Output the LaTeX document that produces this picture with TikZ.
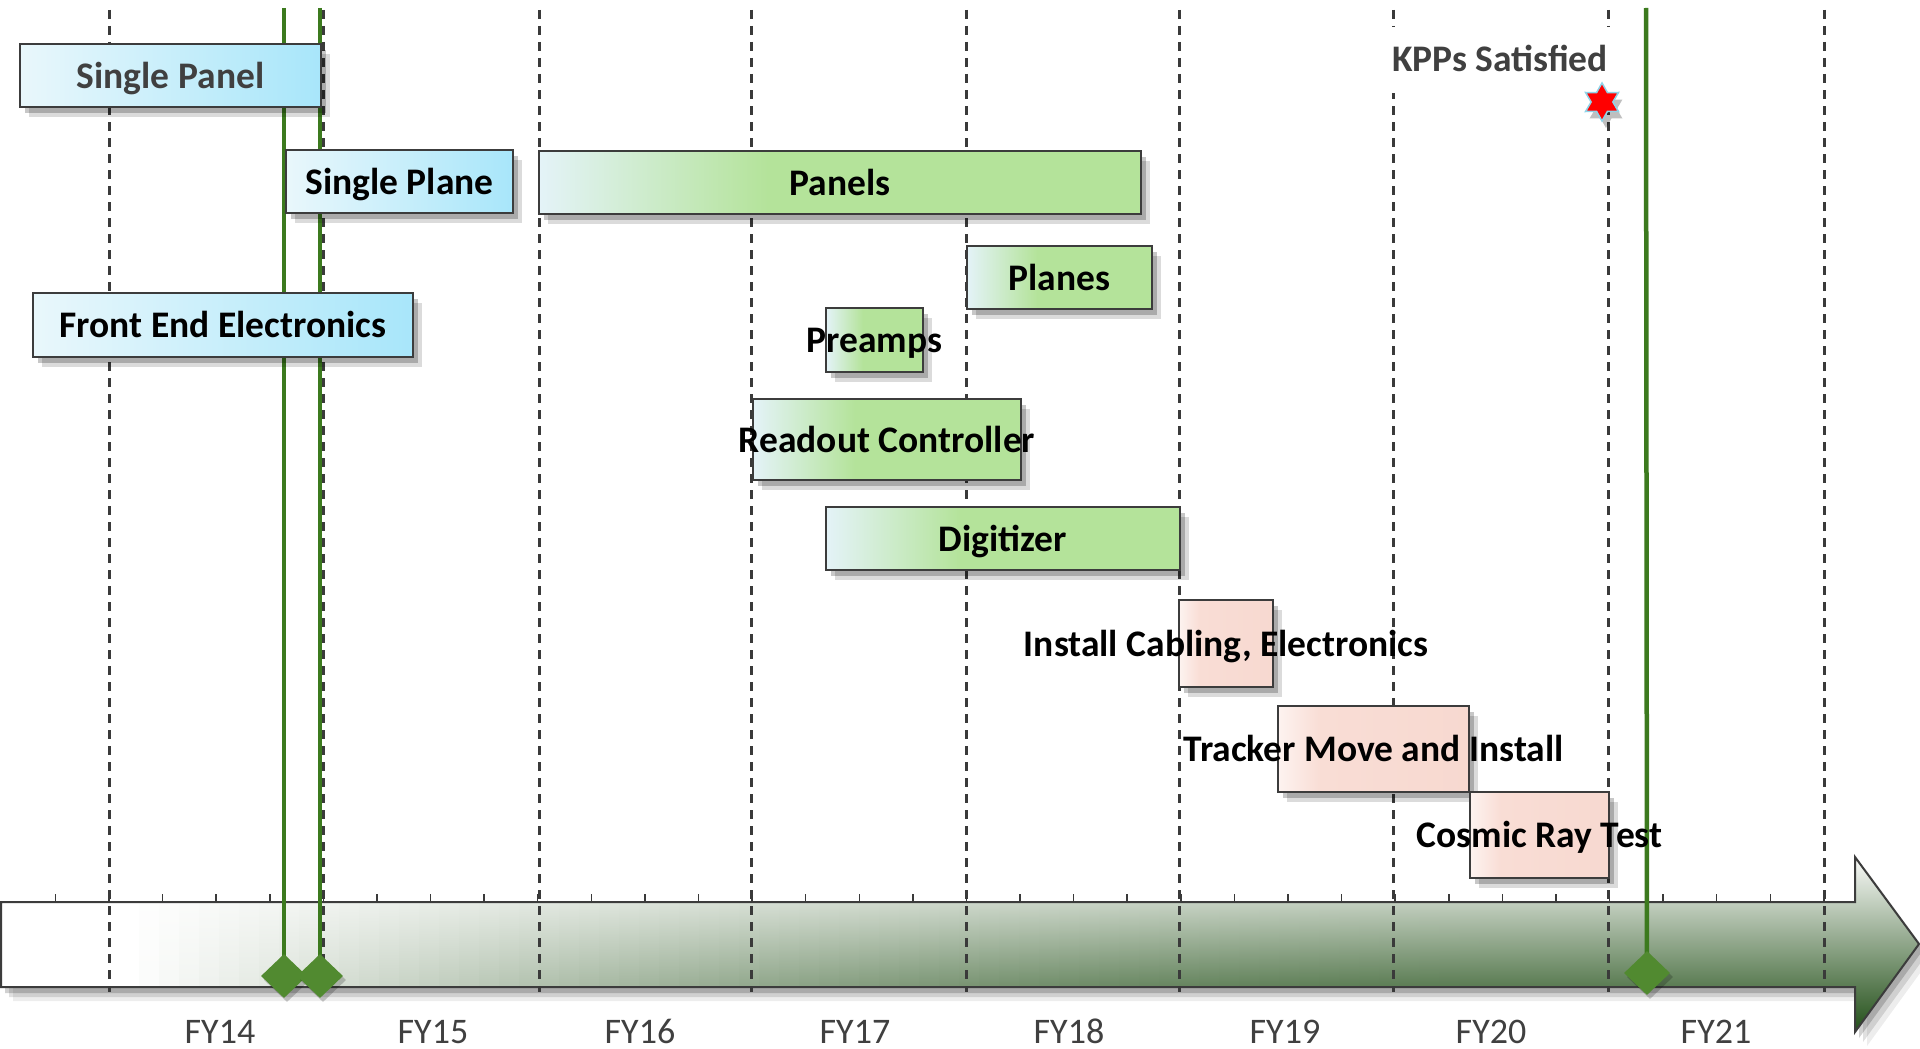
\documentclass[tikz,border=0pt]{standalone}
\usepackage{fontspec}
\setmainfont{Carlito}
\usetikzlibrary{shapes.geometric,shadows}
\definecolor{boxline}{HTML}{3C3C3C}
\definecolor{bleft}{HTML}{E9F7FB}
\definecolor{bright}{HTML}{A8E6FA}
\definecolor{gleft}{HTML}{E4F3F8}
\definecolor{ggreen}{HTML}{B4E39A}
\definecolor{pleft}{HTML}{FDF3F0}
\definecolor{pmid}{HTML}{F9DDD5}
\definecolor{pright}{HTML}{F6D6CD}
\definecolor{bartop}{HTML}{FAFBF9}
\definecolor{barmid}{HTML}{A2B698}
\definecolor{barbot}{HTML}{224F18}
\definecolor{gridc}{HTML}{3A3A3A}
\definecolor{msline}{HTML}{3C7A1E}
\definecolor{msfill}{HTML}{518A30}
\definecolor{greytext}{HTML}{404040}
\definecolor{starline}{HTML}{8FD3E8}
\pgfdeclarehorizontalshading{greenfill}{100bp}{color(0bp)=(gleft); color(25bp)=(gleft); color(44bp)=(ggreen); color(100bp)=(ggreen)}
\pgfdeclarehorizontalshading{pinkfill}{100bp}{color(0bp)=(pleft); color(25bp)=(pleft); color(36bp)=(pmid); color(100bp)=(pright)}
\begin{document}
\begin{tikzpicture}[x=1pt,y=-1pt,
  box/.style={rectangle, inner sep=0pt, outer sep=0pt, draw=boxline, line width=1.4pt},
  bshadow/.style={drop shadow={shadow xshift=5pt,shadow yshift=-6pt,opacity=0.22,fill=black},
                  drop shadow={shadow xshift=9pt,shadow yshift=-10pt,opacity=0.14,fill=black}},
  bluebox/.style={box, bshadow, left color=bleft, right color=bright},
  greenbox/.style={box, bshadow, shade, shading=greenfill},
  pinkbox/.style={box, bshadow, shade, shading=pinkfill},
  lbl/.style={anchor=base, inner sep=0pt, font=\fontsize{37.5}{44}\selectfont\bfseries, text=black},
  fylbl/.style={anchor=base, inner sep=0pt, font=\fontsize{36}{42}\selectfont, text=greytext},
  gridline/.style={draw=gridc, line width=3pt, dash pattern=on 9pt off 7pt},
  tickmark/.style={draw=gridc, line width=1.5pt},
  mline/.style={draw=msline, line width=4.5pt},
  milestone/.style={diamond, fill=msfill, minimum width=46pt, minimum height=44pt, inner sep=0pt,
                    drop shadow={shadow xshift=3pt,shadow yshift=-4pt,opacity=0.2,fill=black}},
]
\useasboundingbox (0,0) rectangle (1920,1049);
\fill[white] (0,0) rectangle (1920,1049);

% timeline bar shadow
\foreach \dx/\dy/\op in {4/6/0.18, 8/10/0.12, 12/14/0.07}
  \fill[black, opacity=\op, shift={(\dx,\dy)}] (1,902) -- (1855,902) -- (1855,857) -- (1919,944) -- (1855,1032) -- (1855,987) -- (1,987) -- cycle;

% timeline bar fill
\begin{scope}
  \clip (1,902) -- (1855,902) -- (1855,857) -- (1919,944) -- (1855,1032) -- (1855,987) -- (1,987) -- cycle;
  \foreach \i in {0,...,96} {
    \pgfmathsetmacro\xa{\i*20}
    \pgfmathsetmacro\w{100*pow(max(0.001,min(1,1-(\xa+10-130)/1370)),1.8)}
    \shade[top color=white!\w!bartop, middle color=white!\w!barmid, bottom color=white!\w!barbot]
      (\xa-0.6,857) rectangle (\xa+20.6,1032);
  }
\end{scope}
\draw[boxline, line width=2pt, line join=miter] (1,902) -- (1855,902) -- (1855,857) -- (1919,944) -- (1855,1032) -- (1855,987) -- (1,987) -- cycle;

% quarter ticks
\foreach \k in {0,...,33}
  \draw[tickmark] ({55.4+53.59*\k},894) -- ({55.4+53.59*\k},902);

% year grid lines
\foreach \x in {109,323,539,751,966,1179,1393,1608,1824}
  \draw[gridline] (\x,10) -- (\x,992);

% year labels
\node[fylbl] (fy14) at (220,1043) {FY14};
\node[fylbl] (fy15) at (433,1043) {FY15};
\node[fylbl] (fy16) at (640,1043) {FY16};
\node[fylbl] (fy17) at (855,1043) {FY17};
\node[fylbl] (fy18) at (1069,1043) {FY18};
\node[fylbl] (fy19) at (1285,1043) {FY19};
\node[fylbl] (fy20) at (1491,1043) {FY20};
\node[fylbl] (fy21) at (1716,1043) {FY21};

% milestone lines
\coordinate (m1top) at (284,8);
\coordinate (m2top) at (320,8);
\coordinate (m3top) at (1646,8);
\draw[mline] (m1top) -- (284,976);
\draw[mline] (m2top) -- (320,976);
\draw[mline] (m3top) -- (1647,973);

% task boxes
\node[bluebox, minimum width=301pt, minimum height=63pt] (sp) at (170.5,75.5) {};
\node[bluebox, minimum width=227pt, minimum height=63pt] (spl) at (399.5,181.5) {};
\node[greenbox, minimum width=602pt, minimum height=63pt] (pan) at (840,182.5) {};
\node[greenbox, minimum width=185pt, minimum height=63pt] (pla) at (1059.5,277.5) {};
\node[bluebox, minimum width=380pt, minimum height=64pt] (fee) at (223,325) {};
\node[greenbox, minimum width=97pt, minimum height=64pt] (pre) at (874.5,340) {};
\node[greenbox, minimum width=268pt, minimum height=81pt] (roc) at (887,439.5) {};
\node[greenbox, minimum width=354pt, minimum height=63pt] (dig) at (1003,538.5) {};
\node[pinkbox, minimum width=94pt, minimum height=87pt] (ice) at (1226,643.5) {};
\node[pinkbox, minimum width=191pt, minimum height=86pt] (tmi) at (1373.5,749) {};
\node[pinkbox, minimum width=139pt, minimum height=86pt] (crt) at (1539.5,835) {};

% task labels
\node[lbl, text=greytext] (sp-t) at ([yshift=-12.6pt]sp.center) {Single Panel};
\node[lbl] (spl-t) at ([yshift=-12.6pt]spl.center) {Single Plane};
\node[lbl] (pan-t) at ([yshift=-12.6pt]pan.center) {Panels};
\node[lbl] (pla-t) at ([yshift=-12.6pt]pla.center) {Planes};
\node[lbl] (fee-t) at ([yshift=-12.6pt]fee.center) {Front End Electronics};
\node[lbl] (pre-t) at ([yshift=-12.6pt]pre.center) {Preamps};
\node[lbl] (roc-t) at ([yshift=-12.6pt]roc.center) {Readout Controller};
\node[lbl] (dig-t) at ([yshift=-12.6pt]dig.center) {Digitizer};
\node[lbl] (ice-t) at ([yshift=-12.6pt]ice.center) {Install Cabling, Electronics};
\node[lbl] (tmi-t) at ([yshift=-12.6pt]tmi.center) {Tracker Move and Install};
\node[lbl] (crt-t) at ([yshift=-12.6pt]crt.center) {Cosmic Ray Test};

% KPP milestone
\node[fill=white, inner sep=0pt, minimum width=226pt, minimum height=66pt, text height=24pt, text depth=0pt,
      font=\fontsize{37.5}{44}\selectfont\bfseries, text=greytext] (kpp) at (1500,60) {KPPs Satisfied};
\node[star, star points=6, star point ratio=1.75, minimum size=38pt, inner sep=0pt, fill=red,
      draw=starline, line width=1.5pt,
      drop shadow={shadow xshift=4pt,shadow yshift=-7pt,opacity=0.25,fill=black}] (kstar) at (1602,102) {};

% milestone diamonds
\node[milestone] (m1) at (284,976) {};
\node[milestone] (m2) at (320,976) {};
\node[milestone] (m3) at (1647,973) {};
\end{tikzpicture}
\end{document}
